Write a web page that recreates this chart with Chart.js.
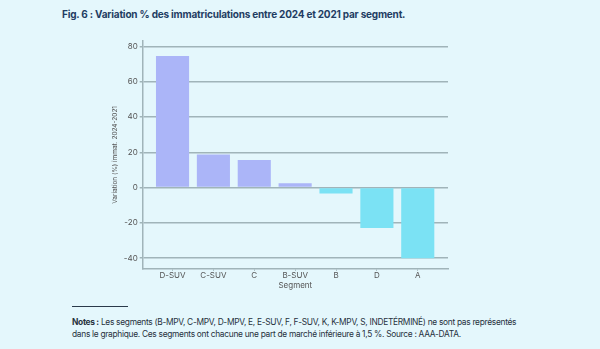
<!DOCTYPE html>
<html lang="fr">
<head>
    <meta charset="UTF-8">
    <title>Fig. 6 : Variation % des immatriculations</title>
    <style>
        body {
            margin: 0;
            width: 600px;
            height: 349px;
            background-color: #e4f7fc;
            font-family: Inter, "Noto Sans", sans-serif;
            position: relative;
            overflow: hidden;
        }
        .title {
            position: absolute;
            left: 62px;
            top: 8px;
            font-size: 10px;
            font-weight: 700;
            color: #1f3d63;
            letter-spacing: -0.2px;
        }
        .chart-box {
            position: absolute;
            left: 0;
            top: 0;
            width: 600px;
            height: 300px;
        }
        .rule {
            position: absolute;
            left: 72px;
            top: 306px;
            width: 56px;
            border-top: 1px solid #2a3a4a;
        }
        .notes {
            position: absolute;
            left: 72px;
            top: 316px;
            width: 452px;
            font-size: 8.4px;
            line-height: 12px;
            color: #27323d;
            letter-spacing: -0.3px;
        }
    </style>
</head>
<body>
    <div class="title">Fig. 6 : Variation % des immatriculations entre 2024 et 2021 par segment.</div>
    <div class="chart-box"><canvas id="segChart" width="600" height="300"></canvas></div>
    <div class="rule"></div>
    <div class="notes"><b>Notes :</b> Les segments (B-MPV, C-MPV, D-MPV, E, E-SUV, F, F-SUV, K, K-MPV, S, INDETÉRMINÉ) ne sont pas représentés dans le graphique. Ces segments ont chacune une part de marché inférieure à 1,5 %. Source : AAA-DATA.</div>

    <script src="https://cdn.jsdelivr.net/npm/chart.js"></script>
    <script>
        const segments = ['D-SUV', 'C-SUV', 'C', 'B-SUV', 'B', 'D', 'A'];
        const variation = [74.5, 18.7, 15.6, 2.5, -3.4, -22.9, -40];
        const yTicks = [-40, -20, 0, 20, 40, 60, 80];

        const posColor = '#abb5f8';
        const negColor = '#7be2f4';
        const gridColor = '#a0b4b9';

        const points = variation.map((v, i) => ({ x: i, y: v }));

        const ctx = document.getElementById('segChart').getContext('2d');
        new Chart(ctx, {
            type: 'bar',
            data: {
                datasets: [{
                    data: points,
                    backgroundColor: variation.map(v => v >= 0 ? posColor : negColor),
                    borderWidth: 0,
                    barPercentage: 0.9,
                    categoryPercentage: 0.9
                }]
            },
            options: {
                responsive: false,
                animation: false,
                devicePixelRatio: 1,
                layout: {
                    padding: { left: 111, right: 152, top: 41, bottom: 10 }
                },
                plugins: {
                    legend: { display: false },
                    tooltip: { enabled: false }
                },
                scales: {
                    x: {
                        type: 'linear',
                        offset: false,
                        min: -0.73,
                        max: 6.74,
                        afterBuildTicks: s => { s.ticks = segments.map((_, i) => ({ value: i })); },
                        ticks: {
                            callback: v => segments[v],
                            color: '#555',
                            font: { size: 8, family: 'Inter' },
                            padding: 0,
                            autoSkip: false,
                            maxRotation: 0
                        },
                        grid: { display: true, offset: false, drawOnChartArea: false, tickLength: 2, color: gridColor },
                        border: { color: gridColor, width: 1.5 },
                        title: {
                            display: true,
                            text: 'Segment',
                            color: '#555',
                            font: { size: 8, family: 'Inter' },
                            padding: { top: 0, bottom: 0 }
                        }
                    },
                    y: {
                        min: -46,
                        max: 83,
                        afterBuildTicks: s => { s.ticks = yTicks.map(v => ({ value: v })); },
                        ticks: {
                            color: '#555',
                            font: { size: 8, family: 'Inter' },
                            padding: 2
                        },
                        grid: { color: gridColor, lineWidth: 1.5, tickLength: 3 },
                        border: { color: gridColor, width: 1.5 },
                        title: {
                            display: true,
                            text: 'Variation (%) immat. 2024-2021',
                            color: '#555',
                            font: { size: 6.5, family: 'Inter' },
                            padding: { top: 0, bottom: 3 }
                        }
                    }
                }
            }
        });
    </script>
</body>
</html>
